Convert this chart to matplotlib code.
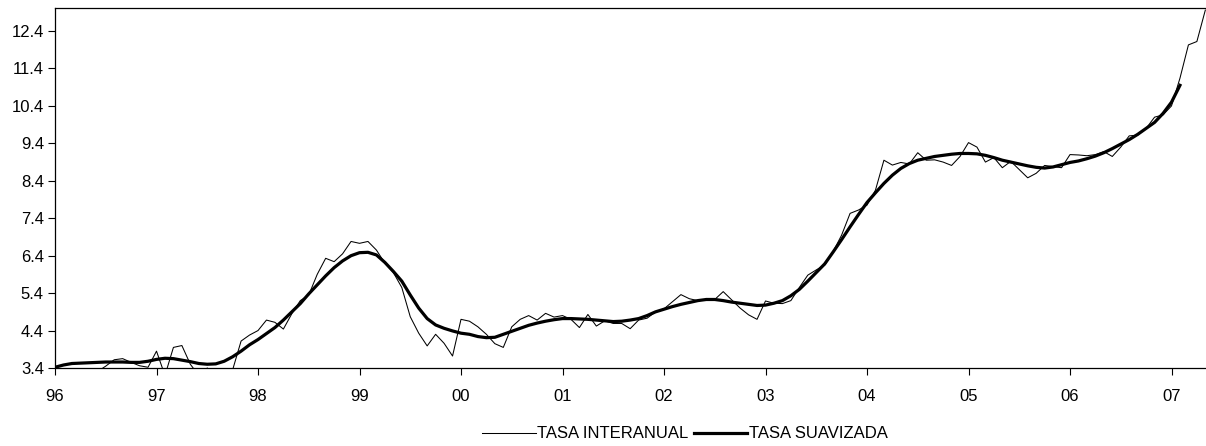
import numpy as np
import matplotlib.pyplot as plt

plt.rcParams['font.family'] = ['Liberation Sans', 'DejaVu Sans']

# meses desde ene-96
start_year = 1996

tasa_interanual = [
    3.10, 3.00, 3.00, 3.10, 3.20, 3.30, 3.45, 3.62, 3.65, 3.55, 3.46, 3.42,   # 96
    3.85, 3.20, 3.95, 4.00, 3.50, 3.20, 3.40, 3.20, 3.00, 3.35, 4.12, 4.28,   # 97
    4.40, 4.68, 4.62, 4.44, 4.85, 5.20, 5.35, 5.90, 6.33, 6.24, 6.45, 6.78,   # 98
    6.73, 6.78, 6.55, 6.20, 5.95, 5.55, 4.77, 4.33, 3.99, 4.30, 4.06, 3.72,   # 99
    4.70, 4.65, 4.50, 4.30, 4.05, 3.95, 4.50, 4.70, 4.80, 4.68, 4.86, 4.76,   # 00
    4.80, 4.70, 4.48, 4.83, 4.52, 4.66, 4.59, 4.59, 4.45, 4.68, 4.73, 4.90,   # 01
    4.98, 5.17, 5.36, 5.25, 5.20, 5.22, 5.23, 5.44, 5.22, 5.00, 4.82, 4.70,   # 02
    5.19, 5.13, 5.12, 5.20, 5.55, 5.88, 6.02, 6.15, 6.51, 6.95, 7.53, 7.62,   # 03
    7.75, 8.15, 8.95, 8.82, 8.89, 8.85, 9.15, 8.95, 8.96, 8.90, 8.81, 9.05,   # 04
    9.42, 9.30, 8.90, 9.02, 8.75, 8.92, 8.70, 8.48, 8.60, 8.81, 8.78, 8.75,   # 05
    9.10, 9.09, 9.07, 9.10, 9.18, 9.05, 9.30, 9.60, 9.62, 9.80, 10.10, 10.16, # 06
    10.40, 11.14, 12.03, 12.12, 12.96,                                         # 07
]

tasa_suavizada = [
    3.42, 3.48, 3.52, 3.53, 3.54, 3.55, 3.56, 3.56, 3.56, 3.55, 3.55, 3.58,
    3.63, 3.66, 3.65, 3.61, 3.57, 3.52, 3.50, 3.51, 3.58, 3.70, 3.85, 4.02,
    4.16, 4.32, 4.48, 4.68, 4.90, 5.12, 5.38, 5.62, 5.86, 6.08, 6.26, 6.40,
    6.48, 6.49, 6.42, 6.22, 5.98, 5.72, 5.35, 5.00, 4.72, 4.55, 4.46, 4.39,
    4.33, 4.30, 4.24, 4.21, 4.22, 4.30, 4.38, 4.46, 4.54, 4.60, 4.65, 4.69,
    4.72, 4.72, 4.71, 4.70, 4.68, 4.66, 4.64, 4.65, 4.68, 4.72, 4.80, 4.90,
    4.97, 5.04, 5.10, 5.15, 5.20, 5.23, 5.23, 5.20, 5.16, 5.13, 5.10, 5.07,
    5.08, 5.13, 5.20, 5.33, 5.50, 5.72, 5.95, 6.18, 6.50, 6.83, 7.17, 7.50,
    7.82, 8.08, 8.33, 8.55, 8.73, 8.86, 8.95, 9.00, 9.05, 9.08, 9.11, 9.13,
    9.13, 9.12, 9.08, 9.02, 8.95, 8.90, 8.85, 8.80, 8.76, 8.74, 8.77, 8.83,
    8.89, 8.93, 8.99, 9.06, 9.15, 9.26, 9.38, 9.50, 9.64, 9.80, 9.96, 10.20,
    10.50, 10.95,
]

year_labels = ['96', '97', '98', '99', '00', '01', '02', '03', '04', '05', '06', '07']
y_ticks = [3.4, 4.4, 5.4, 6.4, 7.4, 8.4, 9.4, 10.4, 11.4, 12.4]

t_inter = start_year + np.arange(len(tasa_interanual)) / 12
t_suav = start_year + np.arange(len(tasa_suavizada)) / 12

fig = plt.figure(figsize=(12.06, 4.46), dpi=100)
ax = fig.add_axes([55/1206, 1 - 368/446, 1 - 55/1206, 360/446])

ax.plot(t_inter, tasa_interanual, color='black', lw=0.75, label='TASA INTERANUAL')
ax.plot(t_suav, tasa_suavizada, color='black', lw=2.3, label='TASA SUAVIZADA')

ax.set_xlim(1996, 1996 + 1151/101.5)
ax.set_ylim(3.4, 3.4 + 360/37.44)
ax.set_xticks(start_year + np.arange(len(year_labels)))
ax.set_xticklabels(year_labels)
ax.set_yticks(y_ticks)
ax.set_yticklabels([f'{v:.1f}' for v in y_ticks])
ax.tick_params(axis='both', labelsize=12, length=5, width=0.8, direction='out', color='black')
ax.tick_params(axis='x', pad=10)
ax.tick_params(axis='y', pad=3)
ax.spines['right'].set_visible(False)
for s in ['left', 'bottom', 'top']:
    ax.spines[s].set_linewidth(0.9)

fig.legend(loc='center', bbox_to_anchor=(685/1206, 1 - 434/446), ncol=2, frameon=False,
           fontsize=12, handlelength=3.2, handletextpad=0.1, columnspacing=0.3)

fig.savefig('out.png', dpi=100)
